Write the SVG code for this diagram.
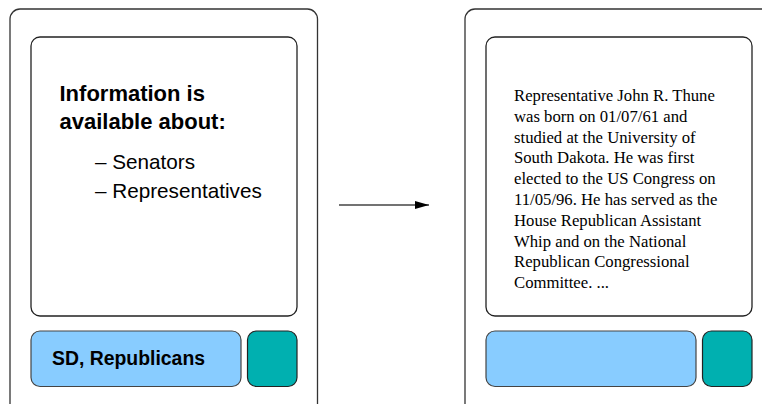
<svg xmlns="http://www.w3.org/2000/svg" width="762" height="404" viewBox="0 0 762 404">
<defs>
<style>
.outer{fill:#fff;stroke:#333;stroke-width:1.3}
.screen{fill:#fff;stroke:#222;stroke-width:1.3}
.bar{fill:#88CCFF;stroke:#444;stroke-width:1.2}
.btn{fill:#00B0B0;stroke:#222;stroke-width:1.2}
.hd{font-family:"Liberation Sans",Arial,sans-serif;font-weight:bold;font-size:22px;fill:#000}
.li{font-family:"Liberation Sans",Arial,sans-serif;font-size:20.7px;fill:#000}
.lb{font-family:"Liberation Sans",Arial,sans-serif;font-weight:bold;font-size:19.4px;fill:#000}
.tx{font-family:"Liberation Serif","Times New Roman",serif;font-size:16.7px;fill:#000}
.conn{stroke:#444;stroke-width:1.4;fill:none}
</style>
<marker id="ah" viewBox="0 0 14 9" refX="14" refY="4.5" markerWidth="14" markerHeight="9" markerUnits="userSpaceOnUse" orient="auto">
<path d="M0,0.5 L14,4.5 L0,8.5 z" fill="#000"/>
</marker>
</defs>
<g id="device-left">
<rect class="outer" x="10" y="9" width="307.5" height="420" rx="10"/>
<rect class="screen" x="31" y="37" width="266" height="279" rx="9"/>
<text class="hd" x="59.5" y="101">Information is</text>
<text class="hd" x="59.5" y="129">available about:</text>
<text class="li" x="95" y="169">– Senators</text>
<text class="li" x="95" y="198">– Representatives</text>
<rect class="bar" x="31" y="331" width="210" height="55.5" rx="9"/>
<text class="lb" x="52" y="365">SD, Republicans</text>
<rect class="btn" x="247.5" y="331" width="49.5" height="55.5" rx="9"/>
</g>
<g id="device-right">
<rect class="outer" x="465" y="9" width="307.5" height="420" rx="10"/>
<rect class="screen" x="486" y="37" width="266" height="279" rx="9"/>
<text class="tx" x="514" y="101">Representative John R. Thune</text>
<text class="tx" x="514" y="121.8">was born on 01/07/61 and</text>
<text class="tx" x="514" y="142.6">studied at the University of</text>
<text class="tx" x="514" y="163.4">South Dakota. He was first</text>
<text class="tx" x="514" y="184.2">elected to the US Congress on</text>
<text class="tx" x="514" y="205">11/05/96. He has served as the</text>
<text class="tx" x="514" y="225.8">House Republican Assistant</text>
<text class="tx" x="514" y="246.6">Whip and on the National</text>
<text class="tx" x="514" y="267.4">Republican Congressional</text>
<text class="tx" x="514" y="288.2">Committee. ...</text>
<rect class="bar" x="486" y="331" width="210" height="55.5" rx="9"/>
<rect class="btn" x="702.5" y="331" width="49.5" height="55.5" rx="9"/>
</g>
<g id="connectors">
<line class="conn" x1="339" y1="205" x2="429" y2="205" marker-end="url(#ah)"/>
</g>
</svg>
